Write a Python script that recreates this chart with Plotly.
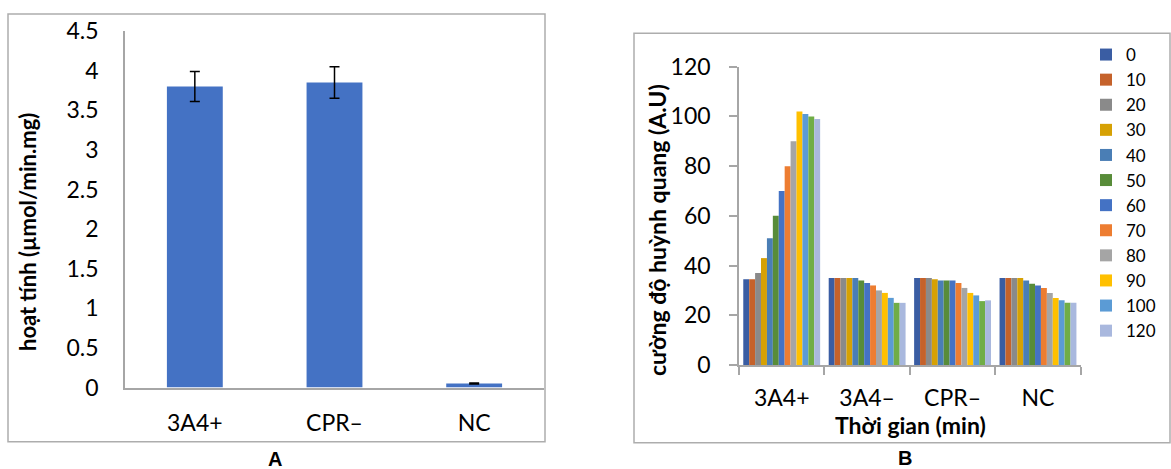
import plotly.graph_objects as go

W, H = 1171, 469

# ---- Panel A data ----
a_categories = ["3A4+", "CPR–", "NC"]
a_values = [3.80, 3.85, 0.05]
a_errors = [0.19, 0.20, 0.006]

# ---- Panel B data ----
b_categories = ["3A4+", "3A4–", "CPR–", "NC"]
b_times = ["0", "10", "20", "30", "40", "50", "60", "70", "80", "90", "100", "110", "120"]
b_values = {
    "0":   [34.5, 35, 35, 35],
    "10":  [34.5, 35, 35, 35],
    "20":  [37, 35, 35, 35],
    "30":  [43, 35, 34.5, 35],
    "40":  [51, 35, 34, 34],
    "50":  [60, 34, 34, 32.7],
    "60":  [70, 33, 34, 32],
    "70":  [80, 32, 33, 31],
    "80":  [90, 30, 31, 29],
    "90":  [102, 29, 29, 27],
    "100": [101, 27, 28, 26],
    "110": [100, 25, 25.7, 25],
    "120": [99, 25, 26, 25],
}
b_hidden_in_legend = ["110"]
b_colors = ["#3A5DA3", "#C5622B", "#8A8A8A", "#D6A104", "#4A7EB5", "#588C39",
            "#4472C4", "#ED7D31", "#A5A5A5", "#FFC000", "#5B9BD5", "#70AD47", "#A9B8DE"]

FONT = "Lato"
AX = "#A6A6A6"

def px(x):
    return x / W

def py(y):
    return 1 - y / H

fig = go.Figure()

fig.add_trace(go.Bar(
    x=a_categories, y=a_values, marker_color="#4472C4", marker_line_width=0, width=0.4,
    error_y=dict(type="data", array=a_errors, color="black", thickness=1.5, width=5),
    xaxis="x", yaxis="y", showlegend=False,
))

for t, c in zip(b_times, b_colors):
    fig.add_trace(go.Bar(
        x=b_categories, y=b_values[t], name=t, marker_color=c, marker_line_width=0,
        xaxis="x2", yaxis="y2", showlegend=t not in b_hidden_in_legend,
    ))

fig.update_layout(
    width=W, height=H, margin=dict(l=0, r=0, t=0, b=0, autoexpand=False),
    paper_bgcolor="white", plot_bgcolor="white",
    font=dict(family=FONT, size=23, color="black"),
    barmode="group", bargap=0.1, bargroupgap=0,
    xaxis=dict(domain=[px(125), px(544)], showline=True, linecolor=AX, linewidth=1.5,
               ticks="", showgrid=False, tickfont=dict(size=23), ticklabelstandoff=14,
               automargin=False),
    yaxis=dict(domain=[py(387.5), py(31)], range=[0, 4.5], dtick=0.5, showline=True,
               linecolor=AX, linewidth=1.5, ticks="", showgrid=False, zeroline=False,
               tickfont=dict(size=23), ticklabelstandoff=20, automargin=False),
    xaxis2=dict(domain=[px(739), px(1080.7)], anchor="y2", showline=True, linecolor=AX,
                linewidth=1.5, ticks="outside", ticklen=8, tickcolor=AX, tickwidth=1.5,
                tickson="boundaries", showgrid=False, tickfont=dict(size=23),
                ticklabelstandoff=12, automargin=False),
    yaxis2=dict(domain=[py(365), py(66.7)], anchor="x2", range=[0, 120], dtick=20,
                showline=True, linecolor=AX, linewidth=1.5, ticks="outside", ticklen=8,
                tickcolor=AX, tickwidth=1.5, showgrid=False, zeroline=False,
                tickfont=dict(size=23), ticklabelstandoff=14, automargin=False),
    legend=dict(x=px(1086), y=py(37), xanchor="left", yanchor="top",
                font=dict(size=17), itemwidth=30, bgcolor="rgba(0,0,0,0)",
                tracegroupgap=0, traceorder="normal"),
)

shapes = [
    dict(type="rect", xref="paper", yref="paper", x0=px(8), x1=px(545), y0=py(441.7), y1=py(14),
         line=dict(color="#ADADAD", width=1.5), fillcolor="rgba(0,0,0,0)"),
    dict(type="rect", xref="paper", yref="paper", x0=px(634), x1=px(1170), y0=py(442.7), y1=py(33.3),
         line=dict(color="#ADADAD", width=1.5), fillcolor="rgba(0,0,0,0)"),
]
fig.update_layout(shapes=shapes)

ann = [
    dict(text="<b>hoạt tính (µmol/min.mg)</b>", x=px(27), y=py(232), textangle=-90,
         font=dict(size=22)),
    dict(text="<b>cường độ huỳnh quang (A.U)</b>", x=px(657), y=py(230), textangle=-90,
         font=dict(size=23)),
    dict(text="<b>Thời gian (min)</b>", x=px(910), y=py(425), font=dict(size=23)),
    dict(text="<b>A</b>", x=px(275), y=py(458.5), font=dict(size=20, family="Liberation Sans")),
    dict(text="<b>B</b>", x=px(905), y=py(458), font=dict(size=20, family="Liberation Sans")),
]
for a in ann:
    a.update(xref="paper", yref="paper", showarrow=False, xanchor="center", yanchor="middle")
fig.update_layout(annotations=ann)

fig.write_html(
    "out.html",
    config={"displayModeBar": False},
    post_script="document.body.style.margin='0';document.body.style.overflow='hidden';",
)
